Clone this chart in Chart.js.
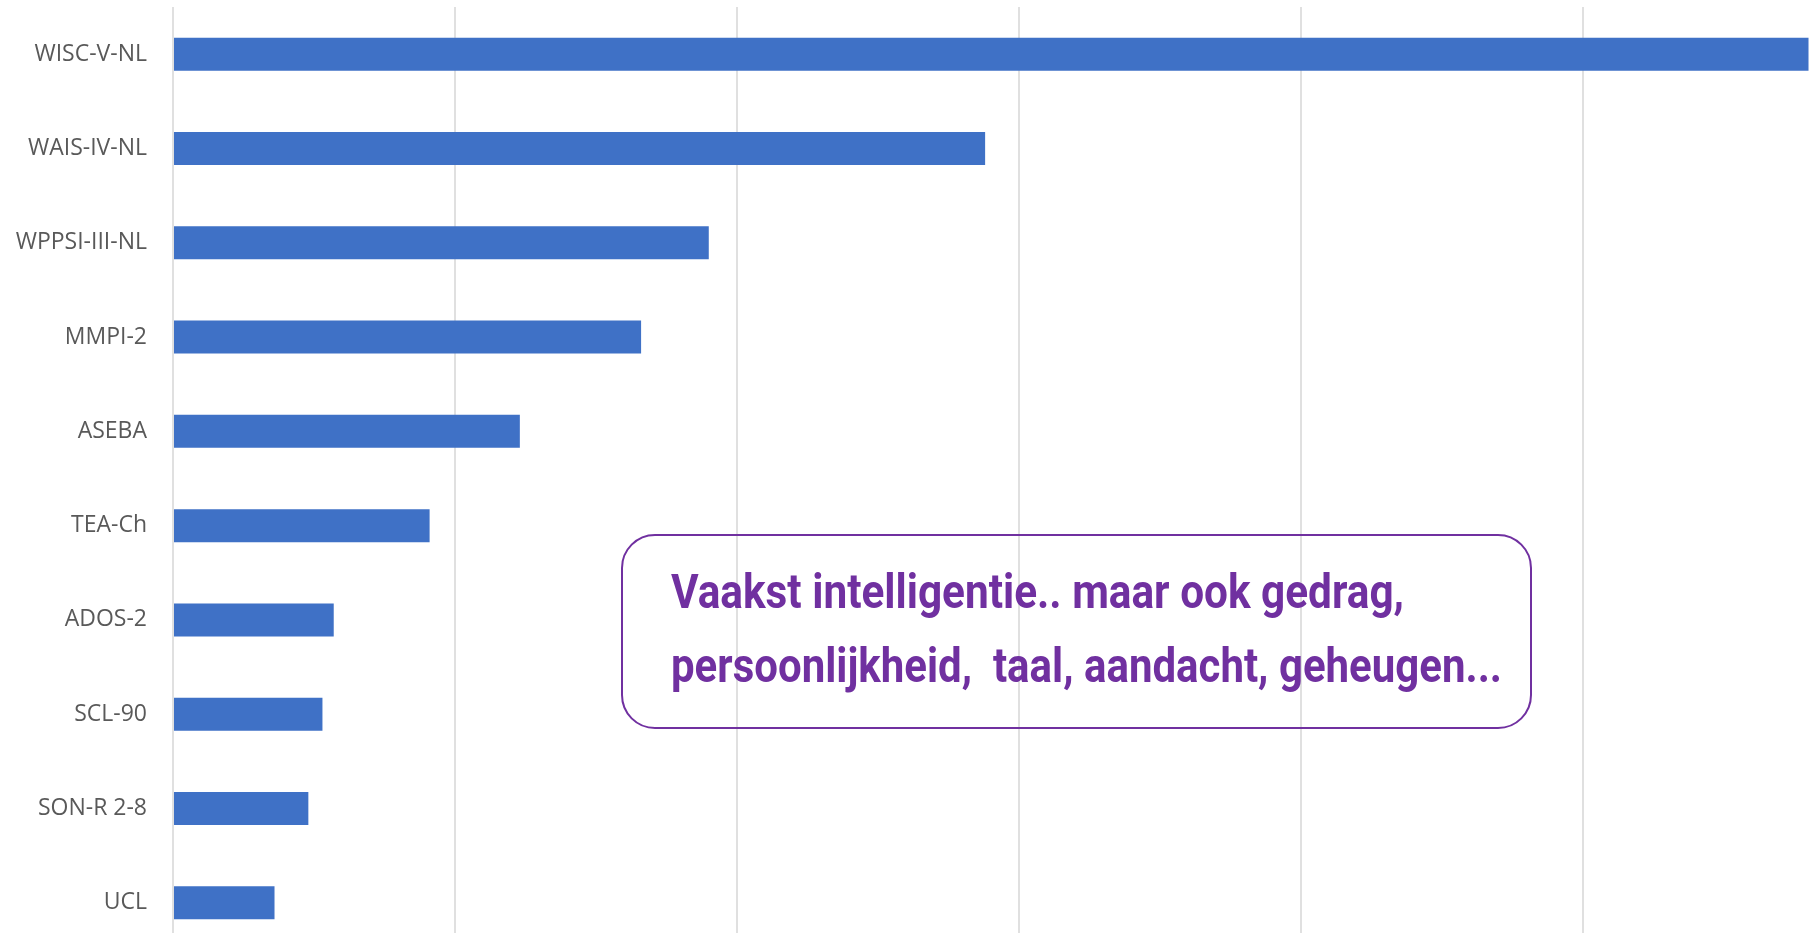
<!DOCTYPE html>
<html>
<head>
<meta charset="utf-8">
<script src="https://cdn.jsdelivr.net/npm/chart.js@4/dist/chart.umd.min.js"></script>
<style>
  html, body { margin: 0; padding: 0; background: #ffffff; overflow: hidden; width: 1815px; height: 933px; }
  #wrap { position: relative; width: 1815px; height: 950px; }
  #c { position: absolute; left: 0; top: 0; }
  #note {
    position: absolute; left: 621px; top: 534px; width: 911px; height: 195px;
    box-sizing: border-box; border: 2px solid #7030A0; border-radius: 34px;
    background: transparent;
  }
  .line {
    position: absolute; left: 671px; white-space: pre;
    font-family: Roboto, "Noto Sans", sans-serif;
    font-weight: bold; font-size: 49px; line-height: 74px; color: #7030A0;
    transform-origin: 0 0;
  }
</style>
</head>
<body>
<div id="wrap">
  <canvas id="c" width="1815" height="950"></canvas>
  <div id="note"></div>
  <div class="line" id="l1" style="top:555px"></div>
  <div class="line" id="l2" style="top:629px"></div>
</div>
<script>
const categories = ['WISC-V-NL', 'WAIS-IV-NL', 'WPPSI-III-NL', 'MMPI-2', 'ASEBA', 'TEA-Ch', 'ADOS-2', 'SCL-90', 'SON-R 2-8', 'UCL'];
const values = [58.0, 28.8, 19.0, 16.6, 12.3, 9.1, 5.7, 5.3, 4.8, 3.6];
const xTickStep = 10;
const xMax = 58.23;
const noteLines = ['Vaakst intelligentie.. maar ook gedrag,', 'persoonlijkheid,  taal, aandacht, geheugen...'];

// fit annotation line widths
const targets = [733, 831];
['l1', 'l2'].forEach((id, i) => {
  const el = document.getElementById(id);
  el.textContent = noteLines[i];
  const w = el.getBoundingClientRect().width;
  el.style.transform = 'scaleX(' + (targets[i] / w) + ')';
});

new Chart(document.getElementById('c'), {
  type: 'bar',
  data: {
    labels: categories,
    datasets: [{
      data: values,
      backgroundColor: '#3F71C6',
      borderWidth: 0,
      barPercentage: 0.35,
      categoryPercentage: 1.0
    }]
  },
  options: {
    indexAxis: 'y',
    responsive: false,
    animation: false,
    events: [],
    layout: { padding: { top: 7, left: 0, right: 0, bottom: 0 } },
    plugins: { legend: { display: false }, tooltip: { enabled: false } },
    scales: {
      x: {
        min: 0, max: xMax,
        ticks: { display: false, stepSize: xTickStep },
        afterBuildTicks: (axis) => { axis.ticks = axis.ticks.filter(t => Math.abs(t.value % xTickStep) < 1e-6); },
        afterFit: (axis) => { axis.height = 0; axis.paddingLeft = 0; axis.paddingRight = 0; },
        grid: { color: '#e0e0e0', lineWidth: 2, drawTicks: false },
        border: { display: false }
      },
      y: {
        afterFit: (axis) => { axis.width = 173; axis.paddingTop = 0; axis.paddingBottom = 0; },
        grid: { display: false, drawTicks: false },
        border: { display: false },
        ticks: {
          padding: 26,
          color: '#595959',
          font: { family: '"Open Sans", "Noto Sans", sans-serif', size: 23 }
        }
      }
    }
  }
});
</script>
</body>
</html>
